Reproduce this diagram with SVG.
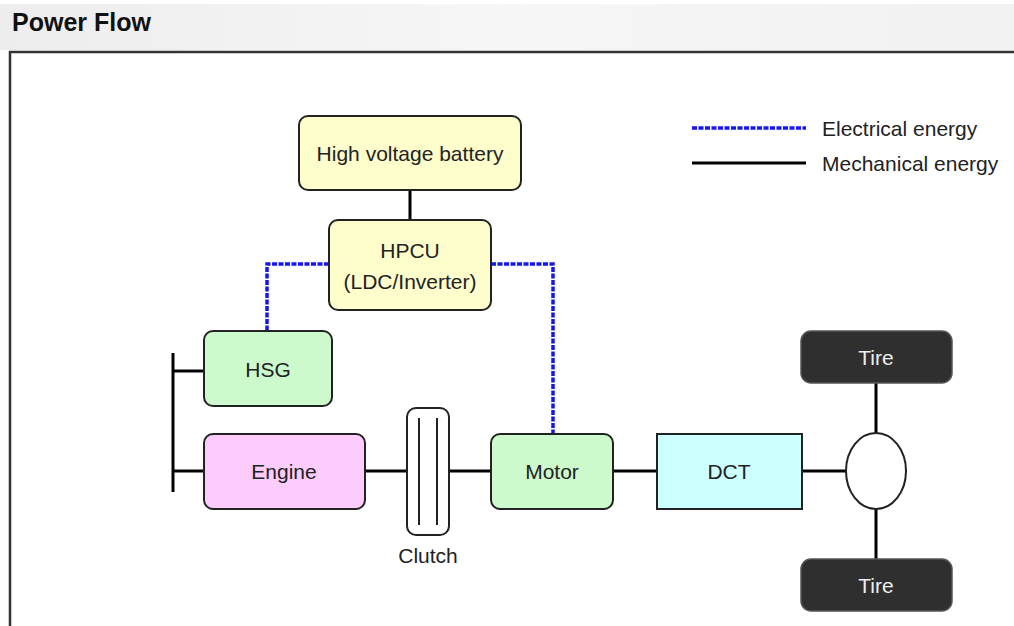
<svg xmlns="http://www.w3.org/2000/svg" width="1014" height="626" viewBox="0 0 1014 626">
<defs>
<linearGradient id="hdr" x1="0" y1="0" x2="1" y2="0">
<stop offset="0" stop-color="#ededee"/><stop offset="0.5" stop-color="#f6f6f7"/><stop offset="1" stop-color="#f1f1f2"/>
</linearGradient>
</defs>
<style>
text{font-family:"Liberation Sans",Arial,sans-serif;fill:#222;}
.box{stroke:#222;stroke-width:2;}
.lbl{font-size:21px;text-anchor:middle;}
.mech{stroke:#000;stroke-width:3;fill:none;}
.elec{stroke:#1515f0;stroke-width:3.5;stroke-dasharray:5 1.5;fill:none;}
.tire{fill:#2f2f2f;stroke:#555;stroke-width:1.5;}
.tiretxt{fill:#eee;}
</style>
<rect x="0" y="0" width="1014" height="626" fill="#fff"/>
<rect x="0" y="4" width="1014" height="46" fill="url(#hdr)"/>
<text x="12" y="31" font-size="25" font-weight="bold" style="fill:#111">Power Flow</text>
<path d="M10 626 V52 H1014" fill="none" stroke="#333" stroke-width="2.5"/>

<g id="legend">
<line x1="692" y1="128" x2="806" y2="128" class="elec"/>
<line x1="692" y1="163" x2="806" y2="163" class="mech"/>
<text x="822" y="136" font-size="21">Electrical energy</text>
<text x="822" y="171" font-size="21">Mechanical energy</text>
</g>

<g id="connectors">
<line x1="410" y1="190" x2="410" y2="220" class="mech"/>
<path d="M329 264 H267 V331" class="elec"/>
<path d="M491 264 H553 V434" class="elec"/>
<line x1="173" y1="353" x2="173" y2="492" class="mech"/>
<line x1="173" y1="371" x2="204" y2="371" class="mech"/>
<line x1="173" y1="471" x2="204" y2="471" class="mech"/>
<line x1="365" y1="471" x2="419" y2="471" class="mech"/>
<line x1="437" y1="471" x2="491" y2="471" class="mech"/>
<line x1="613" y1="471" x2="657" y2="471" class="mech"/>
<line x1="802" y1="471" x2="846" y2="471" class="mech"/>
<line x1="876" y1="383" x2="876" y2="433" class="mech"/>
<line x1="876" y1="509" x2="876" y2="559" class="mech"/>
</g>

<g id="battery">
<rect x="299" y="116" width="222" height="74" rx="9" fill="#fefdcc" class="box"/>
<text x="410" y="161" class="lbl">High voltage battery</text>
</g>
<g id="hpcu">
<rect x="329" y="220" width="162" height="90" rx="9" fill="#fefdcc" class="box"/>
<text x="410" y="258" class="lbl">HPCU</text>
<text x="410" y="289" class="lbl">(LDC/Inverter)</text>
</g>
<g id="hsg">
<rect x="204" y="331" width="128" height="75" rx="9" fill="#ccfacc" class="box"/>
<text x="268" y="377" class="lbl">HSG</text>
</g>
<g id="engine">
<rect x="204" y="434" width="161" height="75" rx="9" fill="#fdccfd" class="box"/>
<text x="284" y="479" class="lbl">Engine</text>
</g>
<g id="clutch">
<rect x="407" y="408" width="42" height="127" rx="9" fill="#fff" class="box"/>
<line x1="419" y1="418" x2="419" y2="525" stroke="#222" stroke-width="2"/>
<line x1="437" y1="418" x2="437" y2="525" stroke="#222" stroke-width="2"/>
<text x="428" y="563" class="lbl">Clutch</text>
</g>
<g id="motor">
<rect x="491" y="434" width="122" height="75" rx="9" fill="#ccfacc" class="box"/>
<text x="552" y="479" class="lbl">Motor</text>
</g>
<g id="dct">
<rect x="657" y="434" width="145" height="75" fill="#ccffff" class="box"/>
<text x="729" y="479" class="lbl">DCT</text>
</g>
<g id="differential">
<ellipse cx="876" cy="471" rx="30" ry="38" fill="#fff" class="box"/>
</g>
<g id="tire-top">
<rect x="801" y="331" width="151" height="52" rx="10" class="tire"/>
<text x="876" y="365" class="lbl tiretxt">Tire</text>
</g>
<g id="tire-bottom">
<rect x="801" y="559" width="151" height="52" rx="10" class="tire"/>
<text x="876" y="593" class="lbl tiretxt">Tire</text>
</g>
</svg>
